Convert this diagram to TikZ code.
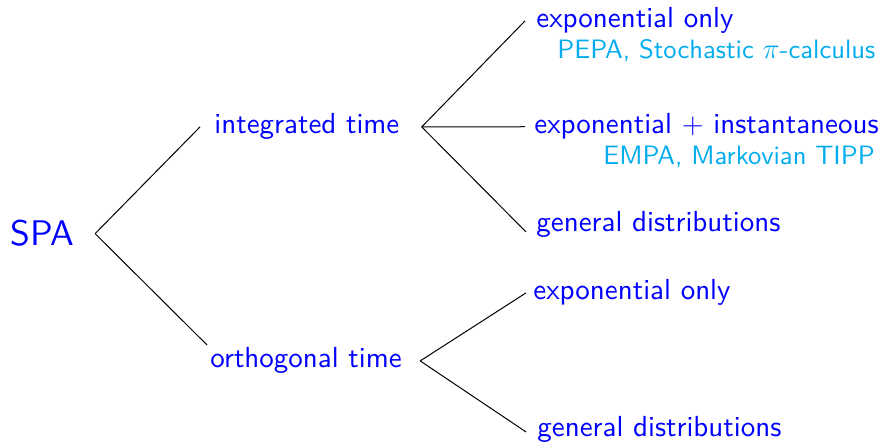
\documentclass[tikz,border=0pt]{standalone}
\usepackage{xcolor}
\DeclareFontFamily{TU}{lmss}{}
\DeclareFontShape{TU}{lmss}{m}{n}{<-> "[lmsans10-regular]:+tlig;"}{}
\definecolor{mainblue}{RGB}{0,0,255}
\definecolor{subcyan}{RGB}{0,172,238}
\begin{document}
\begin{tikzpicture}[x=0.5pt,y=-0.5pt,
  lbl/.style={inner sep=0pt, anchor=base west, text=mainblue, font=\sffamily\fontsize{14.5}{17}\selectfont},
  sub/.style={inner sep=0pt, anchor=base west, text=subcyan, font=\sffamily\fontsize{13.3}{16}\selectfont},
  edge/.style={draw=black, line width=0.5pt}]
\useasboundingbox (0,0) rectangle (884,442);
\node[lbl, font=\sffamily\fontsize{17.8}{20}\selectfont] (spa) at (10,246) {SPA};
\node[lbl] (int) at (214,134) {integrated time};
\node[lbl] (orth) at (210,368) {orthogonal time};
\node[lbl] (e1) at (536,28) {exponential only};
\node[sub] (s1) at (557,59) {PEPA, Stochastic $\pi$-calculus};
\node[lbl] (e2) at (534,134) {exponential $+$ instantaneous};
\node[sub] (s2) at (603,165) {EMPA, Markovian TIPP};
\node[lbl] (g1) at (536,232) {general distributions};
\node[lbl] (e3) at (533,300) {exponential only};
\node[lbl] (g2) at (537,437) {general distributions};
\draw[edge] ([xshift=10.5pt]spa.east) -- ([xshift=-7pt]int.west);
\draw[edge] ([xshift=10.5pt]spa.east) -- ([xshift=-1.5pt,yshift=8pt]orth.west);
\draw[edge] ([xshift=11pt]int.east) -- ([xshift=-5.5pt]e1.west);
\draw[edge] ([xshift=11pt]int.east) -- ([xshift=-4.5pt]e2.west);
\draw[edge] ([xshift=11pt]int.east) -- ([xshift=-5pt,yshift=-3.5pt]g1.west);
\draw[edge] ([xshift=9pt]orth.east) -- ([xshift=-3.5pt]e3.west);
\draw[edge] ([xshift=9pt]orth.east) -- ([xshift=-5.5pt,yshift=-1pt]g2.west);
\end{tikzpicture}
\end{document}
